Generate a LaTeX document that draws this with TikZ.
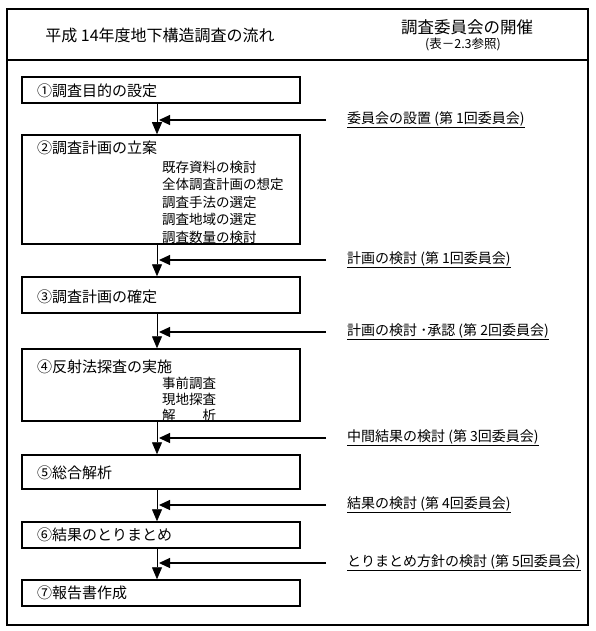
\documentclass[tikz,border=0pt]{standalone}
\usepackage{fontspec}
\setmainfont{Noto Sans CJK JP}
\usetikzlibrary{arrows.meta}
\begin{document}
\begin{tikzpicture}[x=1pt,y=-1pt,
  frame/.style={draw,line width=1.6pt},
  box/.style={draw,line width=1.5pt,minimum width=278pt,inner sep=0pt},
  btxt/.style={anchor=west,inner sep=0pt,font=\fontsize{15}{15}\selectfont},
  sub/.style={anchor=west,inner sep=0pt,font=\fontsize{13.5}{13.5}\selectfont},
  lbl/.style={anchor=west,inner sep=0pt,font=\fontsize{14}{14}\selectfont},
  flow/.style={line width=0.8pt,-{Triangle[length=12pt,width=10pt]}},
  fb/.style={line width=1.2pt,-{Triangle[length=11pt,width=10pt]}}]
\useasboundingbox (0,0) rectangle (595,631);
% frame
\node[frame,minimum width=581pt,minimum height=616pt,inner sep=0pt] (fr) at (297.5,317) {};
\coordinate (hl) at (7,60);
\coordinate (hr) at (588,60);
\draw[line width=1.6pt] (hl) -- (hr);
\node[inner sep=0pt,font=\fontsize{16}{16}\selectfont] (title) at (160,35) {平成 14年度地下構造調査の流れ};
\node[inner sep=0pt,font=\fontsize{16.5}{16.5}\selectfont] (rt) at (467,27) {調査委員会の開催};
\node[inner sep=0pt,font=\fontsize{12.5}{12.5}\selectfont] (rs) at (463,44) {(表－2.3参照)};
% boxes
\node[box,minimum height=26pt] (b1) at (161,90) {};
\node[box,minimum height=109pt] (b2) at (161,189.5) {};
\node[box,minimum height=36pt] (b3) at (161,295) {};
\node[box,minimum height=72pt] (b4) at (161,385) {};
\node[box,minimum height=34pt] (b5) at (161,472) {};
\node[box,minimum height=26pt] (b6) at (161,535) {};
\node[box,minimum height=26pt] (b7) at (161,593) {};
% box texts
\node[btxt] (t1) at (37,91) {①調査目的の設定};
\node[btxt] (t2) at (37,148) {②調査計画の立案};
\node[sub] (s21) at (162,167) {既存資料の検討};
\node[sub] (s22) at (162,184.5) {全体調査計画の想定};
\node[sub] (s23) at (162,202) {調査手法の選定};
\node[sub] (s24) at (162,219.5) {調査地域の選定};
\node[sub] (s25) at (162,237) {調査数量の検討};
\node[btxt] (t3) at (37,297) {③調査計画の確定};
\node[btxt] (t4) at (37,367) {④反射法探査の実施};
\node[sub] (s41) at (162,383) {事前調査};
\node[sub] (s42) at (162,399) {現地探査};
\node[sub] (s43) at (162,415) {解　　析};
\node[btxt] (t5) at (37,473) {⑤総合解析};
\node[btxt] (t6) at (37,535) {⑥結果のとりまとめ};
\node[btxt] (t7) at (37,593) {⑦報告書作成};
% flow arrows
\coordinate (x) at (157,0);
\draw[flow] (b1.south -| x) -- (b2.north -| x);
\draw[flow] (b2.south -| x) -- (b3.north -| x);
\draw[flow] (b3.south -| x) -- (b4.north -| x);
\draw[flow] (b4.south -| x) -- (b5.north -| x);
\draw[flow] (b5.south -| x) -- (b6.north -| x);
\draw[flow] (b6.south -| x) -- (b7.north -| x);
% committee labels
\node[lbl] (l1) at (347,120) {\underline{委員会の設置 (第 1回委員会)}};
\node[lbl] (l2) at (347,260) {\underline{計画の検討 (第 1回委員会)}};
\node[lbl] (l3) at (347,332) {\underline{計画の検討 ･承認 (第 2回委員会)}};
\node[lbl] (l4) at (347,438) {\underline{中間結果の検討 (第 3回委員会)}};
\node[lbl] (l5) at (347,505) {\underline{結果の検討 (第 4回委員会)}};
\node[lbl] (l6) at (347,563) {\underline{とりまとめ方針の検討 (第 5回委員会)}};
\foreach \i in {1,...,6} {
  \coordinate (a\i) at ([xshift=-21pt]l\i.west);
  \draw[fb] (a\i) -- (a\i -| 159,0);
}
\end{tikzpicture}
\end{document}
